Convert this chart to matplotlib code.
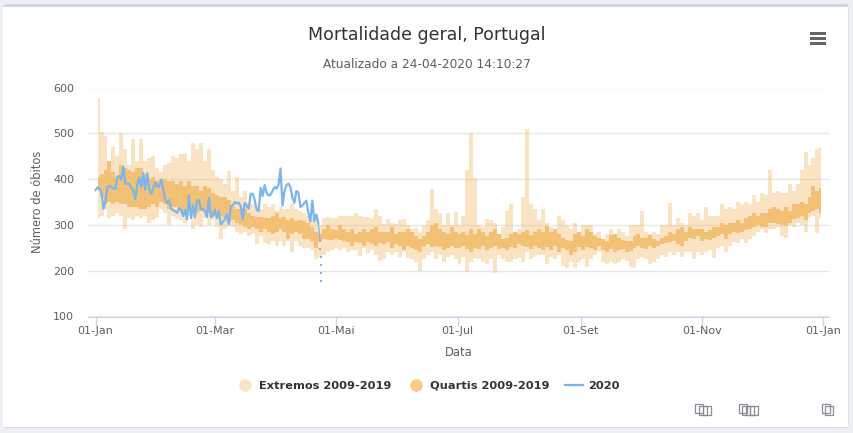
import matplotlib
matplotlib.use('Agg')
import matplotlib.pyplot as plt
from matplotlib.lines import Line2D
from matplotlib.patches import FancyBboxPatch, Rectangle
import numpy as np

# valores, uma amostra a cada 2 dias (dia 1, 3, 5, ...)
ext_max = [
    578, 502, 495, 440, 470, 450, 500, 465, 430, 487,
    440, 487, 440, 445, 450, 425, 415, 430, 435, 450,
    445, 455, 455, 440, 478, 465, 478, 440, 465, 420,
    405, 400, 390, 418, 375, 405, 360, 375, 350, 345,
    340, 335, 345, 340, 345, 330, 340, 335, 335, 345,
    335, 330, 325, 320, 315, 315, 300, 315, 318, 315,
    315, 320, 320, 320, 320, 325, 320, 318, 318, 315,
    335, 320, 302, 312, 305, 303, 310, 312, 300, 290,
    293, 285, 300, 310, 378, 335, 325, 300, 325, 300,
    328, 300, 320, 420, 500, 403, 300, 295, 313, 310,
    305, 280, 295, 330, 345, 285, 290, 360, 510, 345,
    335, 310, 335, 305, 295, 285, 320, 310, 300, 290,
    305, 285, 300, 300, 300, 280, 285, 270, 280, 290,
    280, 290, 285, 275, 300, 300, 300, 330, 285, 280,
    285, 280, 300, 300, 347, 300, 315, 305, 300, 325,
    320, 325, 310, 338, 320, 320, 320, 345, 335, 340,
    335, 350, 345, 350, 345, 365, 350, 370, 365, 420,
    370, 375, 370, 370, 390, 375, 390, 420, 460, 430,
    445, 465, 470]
ext_min = [
    315, 320, 335, 315, 320, 325, 320, 290, 315, 310,
    320, 315, 320, 305, 310, 315, 335, 325, 300, 320,
    315, 310, 305, 320, 290, 300, 295, 315, 300, 310,
    295, 270, 290, 300, 295, 285, 280, 285, 275, 280,
    258, 275, 260, 258, 265, 255, 265, 255, 265, 240,
    265, 255, 250, 250, 245, 225, 230, 235, 240, 245,
    250, 245, 250, 240, 245, 245, 232, 250, 238, 245,
    235, 222, 225, 240, 235, 240, 230, 240, 228, 225,
    220, 200, 225, 235, 240, 225, 235, 220, 230, 235,
    225, 215, 230, 197, 220, 228, 225, 220, 215, 225,
    195, 235, 225, 220, 220, 225, 228, 220, 240, 225,
    230, 235, 235, 215, 230, 225, 235, 210, 205, 220,
    205, 220, 225, 208, 225, 235, 240, 218, 215, 220,
    215, 220, 225, 222, 208, 205, 225, 230, 225, 215,
    220, 225, 235, 230, 240, 235, 240, 230, 240, 240,
    225, 240, 235, 240, 245, 228, 250, 255, 240, 255,
    262, 260, 270, 260, 270, 275, 285, 290, 282, 290,
    290, 295, 275, 272, 300, 295, 305, 300, 285, 315,
    320, 282, 315]
q3 = [
    405, 412, 420, 440, 415, 405, 430, 425, 420, 415,
    425, 425, 410, 400, 405, 395, 400, 400, 395, 395,
    390, 395, 385, 395, 385, 385, 375, 385, 380, 370,
    365, 360, 362, 355, 340, 335, 335, 335, 325, 320,
    318, 318, 315, 315, 320, 325, 315, 318, 310, 315,
    308, 310, 308, 305, 295, 285, 280, 290, 300, 290,
    288, 300, 290, 285, 290, 280, 285, 290, 285, 290,
    295, 285, 285, 285, 295, 280, 285, 285, 290, 285,
    275, 270, 275, 285, 300, 305, 290, 285, 280, 295,
    285, 280, 285, 278, 290, 280, 290, 285, 275, 285,
    292, 280, 270, 272, 280, 285, 280, 285, 288, 278,
    285, 290, 285, 297, 285, 290, 280, 272, 268, 265,
    280, 285, 275, 290, 285, 275, 272, 270, 265, 278,
    280, 272, 268, 265, 265, 275, 280, 272, 272, 278,
    270, 265, 272, 275, 285, 280, 290, 295, 285, 295,
    292, 290, 290, 285, 288, 295, 295, 305, 300, 305,
    305, 310, 305, 315, 320, 325, 320, 325, 325, 335,
    340, 335, 330, 340, 330, 345, 345, 350, 345, 360,
    385, 375, 380]
q1 = [
    375, 360, 345, 350, 345, 350, 345, 345, 340, 340,
    340, 335, 335, 340, 345, 340, 350, 345, 335, 340,
    340, 330, 330, 335, 340, 325, 330, 330, 325, 320,
    325, 320, 315, 305, 310, 305, 300, 295, 290, 295,
    290, 285, 290, 285, 280, 285, 290, 285, 270, 280,
    285, 280, 270, 270, 265, 250, 265, 270, 268, 268,
    270, 268, 265, 262, 255, 262, 260, 255, 262, 258,
    255, 260, 258, 262, 250, 258, 255, 245, 255, 250,
    245, 240, 255, 258, 252, 255, 252, 245, 250, 255,
    250, 250, 255, 248, 240, 250, 248, 255, 245, 250,
    255, 248, 250, 245, 252, 250, 258, 255, 252, 248,
    255, 250, 245, 252, 245, 255, 240, 250, 245, 235,
    240, 252, 245, 252, 250, 245, 255, 245, 240, 248,
    240, 245, 248, 240, 242, 250, 255, 250, 248, 255,
    250, 255, 258, 260, 262, 265, 258, 255, 265, 272,
    270, 275, 265, 270, 268, 272, 275, 280, 270, 280,
    285, 282, 285, 288, 290, 295, 300, 295, 295, 305,
    305, 302, 300, 298, 305, 312, 315, 320, 310, 325,
    330, 335, 325]

# 2020, diario ate 22 de abril
obitos_2020 = [
    376, 382, 379, 371, 335, 352, 383, 385, 383, 379,
    379, 406, 406, 399, 427, 390, 390, 389, 381, 374,
    357, 388, 403, 383, 413, 377, 413, 377, 368, 379,
    393, 383, 384, 399, 377, 355, 348, 354, 335, 332,
    330, 326, 337, 333, 319, 333, 312, 364, 315, 342,
    317, 352, 354, 333, 335, 330, 317, 359, 317, 320,
    333, 315, 330, 301, 306, 312, 323, 301, 341, 342,
    350, 347, 348, 341, 312, 348, 342, 335, 368, 368,
    355, 333, 330, 381, 363, 387, 370, 364, 366, 374,
    383, 379, 388, 423, 342, 374, 387, 390, 383, 359,
    348, 374, 371, 339, 342, 348, 353, 326, 308, 353,
    308, 323, 304]
# ultimos dias ainda incompletos
dias_fim = [112, 113]
obitos_fim = [304, 265]
dias_ponto = [113, 113.1, 113.2, 113.3, 113.4, 113.5]
obitos_ponto = [265, 247, 230, 212, 195, 177]

tick_dias = [0, 60, 121, 182, 244, 305, 366]
tick_nomes = ['01-Jan', '01-Mar', '01-Mai', '01-Jul', '01-Set', '01-Nov', '01-Jan']

COR_QUA = '#f2be6e'
COR_2020 = '#7cb5ec'
COR_TXT = '#5f5f5f'
COR_ICON = '#8c8c98'
W, H = 854, 433

plt.rcParams['font.family'] = ['DejaVu Sans']
fig = plt.figure(figsize=(W / 100, H / 100), dpi=100)
fig.patch.set_facecolor('#ecf0f5')

# cartao branco e icones, em pixeis
bg = fig.add_axes([0, 0, 1, 1], zorder=-1)
bg.set_xlim(0, W)
bg.set_ylim(H, 0)
bg.axis('off')
bg.add_patch(FancyBboxPatch((3.5, 4), 845, 424, boxstyle='round,pad=0,rounding_size=3',
                            fc='#d2d6de', ec='none'))
bg.add_patch(Rectangle((3.5, 7), 845, 420, fc='white', ec='none'))
for y in [32, 37, 42]:
    bg.add_patch(Rectangle((810, y), 16.5, 2.7, fc='#666666', ec='none'))
for x, y in [(695, 403), (699, 405), (703, 405), (739, 403), (742, 405), (746, 405), (750, 405),
             (822, 403), (825, 405)]:
    bg.add_patch(Rectangle((x + 0.5, y + 0.5), 8, 9, fc='none', ec=COR_ICON, lw=0.9))

ax = fig.add_axes([88 / W, 1 - 316.5 / H, (829 - 88) / W, (316.5 - 87.5) / H])
ax.patch.set_alpha(0)

dias = np.arange(len(ext_max)) * 2 + 1
ax.fill_between(dias, ext_min, ext_max, step='mid', color=COR_QUA, alpha=0.42, lw=0, zorder=2)
ax.fill_between(dias, q1, q3, step='mid', color=COR_QUA, alpha=0.9, lw=0, zorder=3)
ax.plot(np.arange(len(obitos_2020)), obitos_2020, color=COR_2020, lw=1.6, zorder=4)
ax.plot(dias_fim, obitos_fim, color=COR_2020, lw=0.9, zorder=4)
ax.plot(dias_ponto, obitos_ponto, color=COR_2020, ls='none', marker='s', ms=1.6, mew=0, zorder=4)

ax.set_xlim(-3.8, 368.8)
ax.set_ylim(100, 600)
ax.set_yticks([100, 200, 300, 400, 500, 600])
ax.set_xticks(tick_dias)
ax.set_xticklabels(tick_nomes)
ax.grid(axis='y', color='#e6e6e6', lw=1)
ax.set_axisbelow(True)
for s in ['top', 'left', 'right']:
    ax.spines[s].set_visible(False)
ax.spines['bottom'].set_color('#ccd6eb')
ax.tick_params(axis='x', color='#ccd6eb', length=6.5, width=1, labelsize=8, labelcolor=COR_TXT, pad=0.5)
ax.tick_params(axis='y', length=0, labelsize=8, labelcolor=COR_TXT, pad=10)
ax.set_xlabel('Data', fontsize=8.3, color=COR_TXT, labelpad=7)
ax.set_ylabel('Número de óbitos', fontsize=8.3, color=COR_TXT, labelpad=6.5)

fig.text(427 / W, 1 - 35 / H, 'Mortalidade geral, Portugal', ha='center', va='center',
         fontsize=12.5, color='#333333')
fig.text(427 / W, 1 - 64 / H, 'Atualizado a 24-04-2020 14:10:27', ha='center', va='center',
         fontsize=8.7, color=COR_TXT)

handles = [
    Line2D([], [], ls='none', marker='o', ms=9, mfc='#fae4c4', mec='none'),
    Line2D([], [], ls='none', marker='o', ms=9, mfc='#f5ca8a', mec='none'),
    Line2D([], [], color=COR_2020, lw=1.6),
]
leg = fig.legend(handles, ['Extremos 2009-2019', 'Quartis 2009-2019', '2020'], ncol=3, frameon=False,
                 loc='center', bbox_to_anchor=(428 / W, 1 - 386 / H),
                 handlelength=1.6, handletextpad=0.45, columnspacing=1.35,
                 prop={'weight': 'bold', 'size': 8.2})
for t in leg.get_texts():
    t.set_color('#333333')

fig.savefig('out.png', dpi=100)
